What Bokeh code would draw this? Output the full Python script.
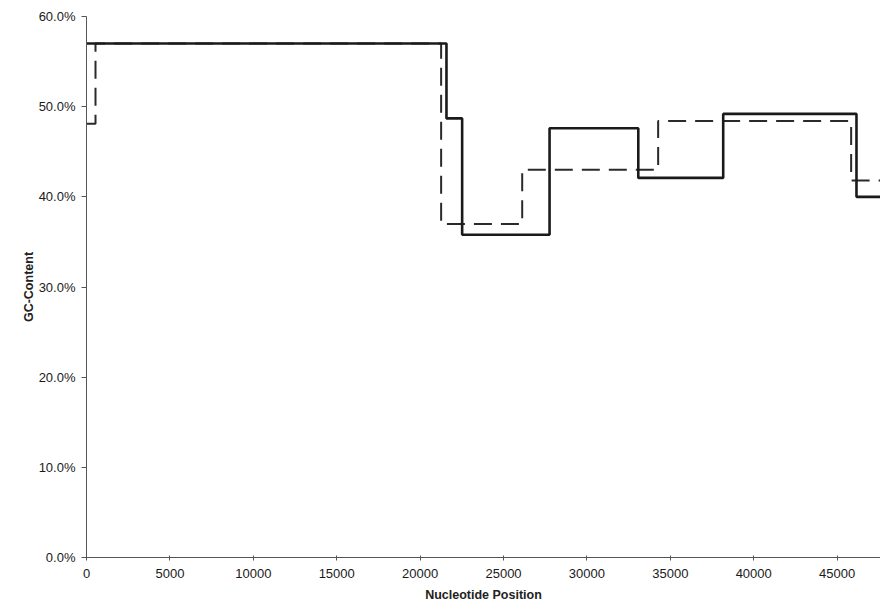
from bokeh.plotting import figure
from bokeh.models import NumeralTickFormatter, FixedTicker, Range1d
from bokeh.embed import file_html
from bokeh.resources import INLINE

# GC content per segment along the genome (fraction), two sequences
solid_edges = [0, 21580, 22520, 27760, 33080, 38170, 46160, 48502]
solid_gc = [0.570, 0.487, 0.358, 0.476, 0.421, 0.492, 0.400]

dashed_edges = [0, 540, 21260, 26120, 34270, 45840, 48502]
dashed_gc = [0.481, 0.570, 0.370, 0.430, 0.484, 0.418]

x_ticks = [0, 5000, 10000, 15000, 20000, 25000, 30000, 35000, 40000, 45000]
y_ticks = [0.0, 0.1, 0.2, 0.3, 0.4, 0.5, 0.6]

p = figure(width=880, height=611, output_backend="svg", toolbar_location=None,
           x_range=Range1d(0, 47600), y_range=Range1d(0, 0.6),
           min_border_left=86, min_border_right=0, min_border_top=16,
           min_border_bottom=54)
p.outline_line_color = None
p.grid.visible = False
p.background_fill_color = "white"

# step traces: each value holds from its edge to the next edge
p.step(dashed_edges, dashed_gc + [dashed_gc[-1]], mode="after",
       line_color="#2a2a2a", line_width=2, line_dash="18 9")
p.step(solid_edges, solid_gc + [solid_gc[-1]], mode="after",
       line_color="#1a1a1a", line_width=2.6)

for ax in (p.xaxis, p.yaxis):
    ax.axis_line_color = "#555555"
    ax.axis_line_width = 1
    ax.major_tick_line_color = "#555555"
    ax.minor_tick_line_color = None
    ax.major_label_text_font = "Liberation Sans"
    ax.major_label_text_font_size = "13px"
    ax.major_label_text_color = "#1a1a1a"
    ax.axis_label_text_font = "Liberation Sans"
    ax.axis_label_text_font_size = "12.5px"
    ax.axis_label_text_font_style = "bold"
    ax.axis_label_text_color = "#222222"

p.yaxis.ticker = FixedTicker(ticks=y_ticks)
p.yaxis.formatter = NumeralTickFormatter(format="0.0%")
p.yaxis.major_tick_out = 5
p.yaxis.major_tick_in = 0
p.yaxis.major_label_standoff = 6
p.yaxis.axis_label = "GC-Content"
p.yaxis.axis_label_standoff = 0

p.xaxis.ticker = FixedTicker(ticks=x_ticks)
p.xaxis.formatter = NumeralTickFormatter(format="0")
p.xaxis.major_tick_out = 3
p.xaxis.major_tick_in = 2
p.xaxis.major_label_standoff = 8
p.xaxis.axis_label = "Nucleotide Position"
p.xaxis.axis_label_standoff = 7

open("out.html", "w").write(file_html(p, INLINE))
